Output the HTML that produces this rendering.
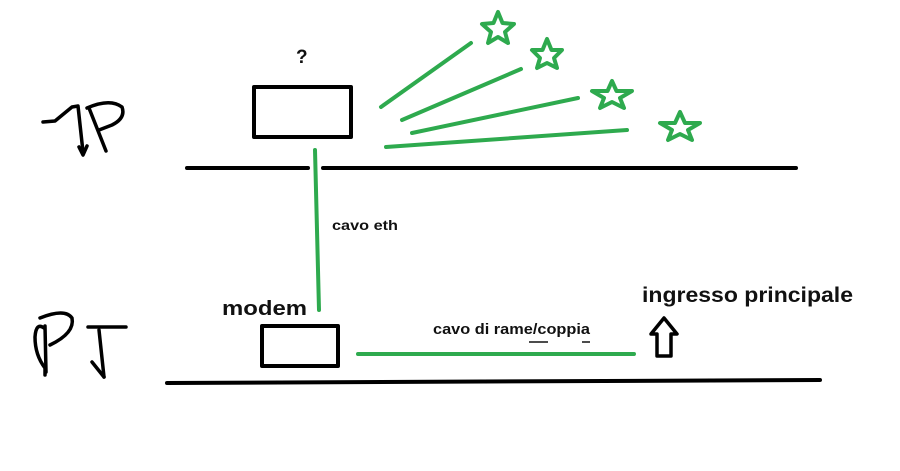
<!DOCTYPE html>
<html><head><meta charset="utf-8"><style>
html,body{margin:0;padding:0;background:#fff;}
svg{display:block;}
text{font-family:"Liberation Sans",sans-serif;font-weight:bold;fill:#111;}
</style></head><body>
<svg width="900" height="471" viewBox="0 0 900 471" xmlns="http://www.w3.org/2000/svg">
<g fill="none" stroke="#000" stroke-linecap="round" stroke-linejoin="round">
  <!-- 1P -->
  <path d="M43 122 L55 121 L72 107 L78 106 L83 152" stroke-width="3.5"/>
  <path d="M79 147 L83 155 L87 146" stroke-width="3.5"/>
  <path d="M89 108 L106 151" stroke-width="3.5"/>
  <path d="M87 108 Q110 98 122 107 Q126 118 112 125 L99 130" stroke-width="3.5"/>
  <!-- PT -->
  <path d="M44 328 Q36 322 35 337 Q35 355 45 368 L45 375" stroke-width="3.5"/>
  <path d="M45 326 L46 372" stroke-width="3.5"/>
  <path d="M40 318 Q65 308 72 318 Q75 333 50 345" stroke-width="3.5"/>
  <path d="M88 327 L126 327" stroke-width="3.5"/>
  <path d="M99 330 L104 377" stroke-width="3.5"/>
  <path d="M104 377 L92 362" stroke-width="3.5"/>
  <!-- floors -->
  <path d="M187 168 L308 168 M323 168 L796 168" stroke-width="4"/>
  <path d="M167 383 L820 380" stroke-width="4"/>
  <!-- boxes -->
  <rect x="254" y="87" width="97" height="50" stroke-width="4"/>
  <rect x="262" y="326" width="76" height="40" stroke-width="4"/>
  <!-- arrow -->
  <path d="M664 318 L677 334 L671 334 L671 356 L657 356 L657 334 L651 334 Z" stroke-width="3.5"/>
</g>
<g fill="none" stroke="#2eaa4e" stroke-linecap="round" stroke-linejoin="round" stroke-width="4">
  <path d="M315 150 L319 310"/>
  <path d="M358 354 L634 354"/>
  <path d="M381 107 L471 43"/>
  <path d="M402 120 L521 69"/>
  <path d="M412 133 L578 98"/>
  <path d="M386 147 L627 130"/>
</g>
<g fill="none" stroke="#2eaa4e" stroke-linejoin="round" stroke-width="4">
  <path d="M0 -17 L4.5 -6 L16 -5 L7 3 L10 14 L0 8 L-10 14 L-7 3 L-16 -5 L-4.5 -6 Z" transform="translate(498,29)"/>
  <path d="M0 -16 L4.5 -5 L15 -5 L7 3 L10 13 L0 8 L-10 13 L-7 3 L-15 -5 L-4.5 -5 Z" transform="translate(547,55)"/>
  <path d="M0 -15 L4.5 -5 L20 -5 L8 2 L12 12 L0 6 L-12 12 L-8 2 L-20 -5 L-4.5 -5 Z" transform="translate(612,96)"/>
  <path d="M0 -15 L5 -4 L20 -4 L8 3 L12 13 L0 7 L-12 13 L-8 3 L-20 -4 L-5 -4 Z" transform="translate(680,127)"/>
</g>
<text x="296" y="63" font-size="19">?</text>
<text x="332" y="230" font-size="14" textLength="66" lengthAdjust="spacingAndGlyphs">cavo eth</text>
<text x="222" y="315" font-size="20" textLength="85" lengthAdjust="spacingAndGlyphs">modem</text>
<text x="433" y="334" font-size="14.5" textLength="157" lengthAdjust="spacingAndGlyphs">cavo di rame/coppia</text>
<path d="M529 342 L548 342 M582 342 L590 342" stroke="#111" stroke-width="1.5"/>
<text x="642" y="302" font-size="21" textLength="211" lengthAdjust="spacingAndGlyphs">ingresso principale</text>
</svg>
</body></html>
